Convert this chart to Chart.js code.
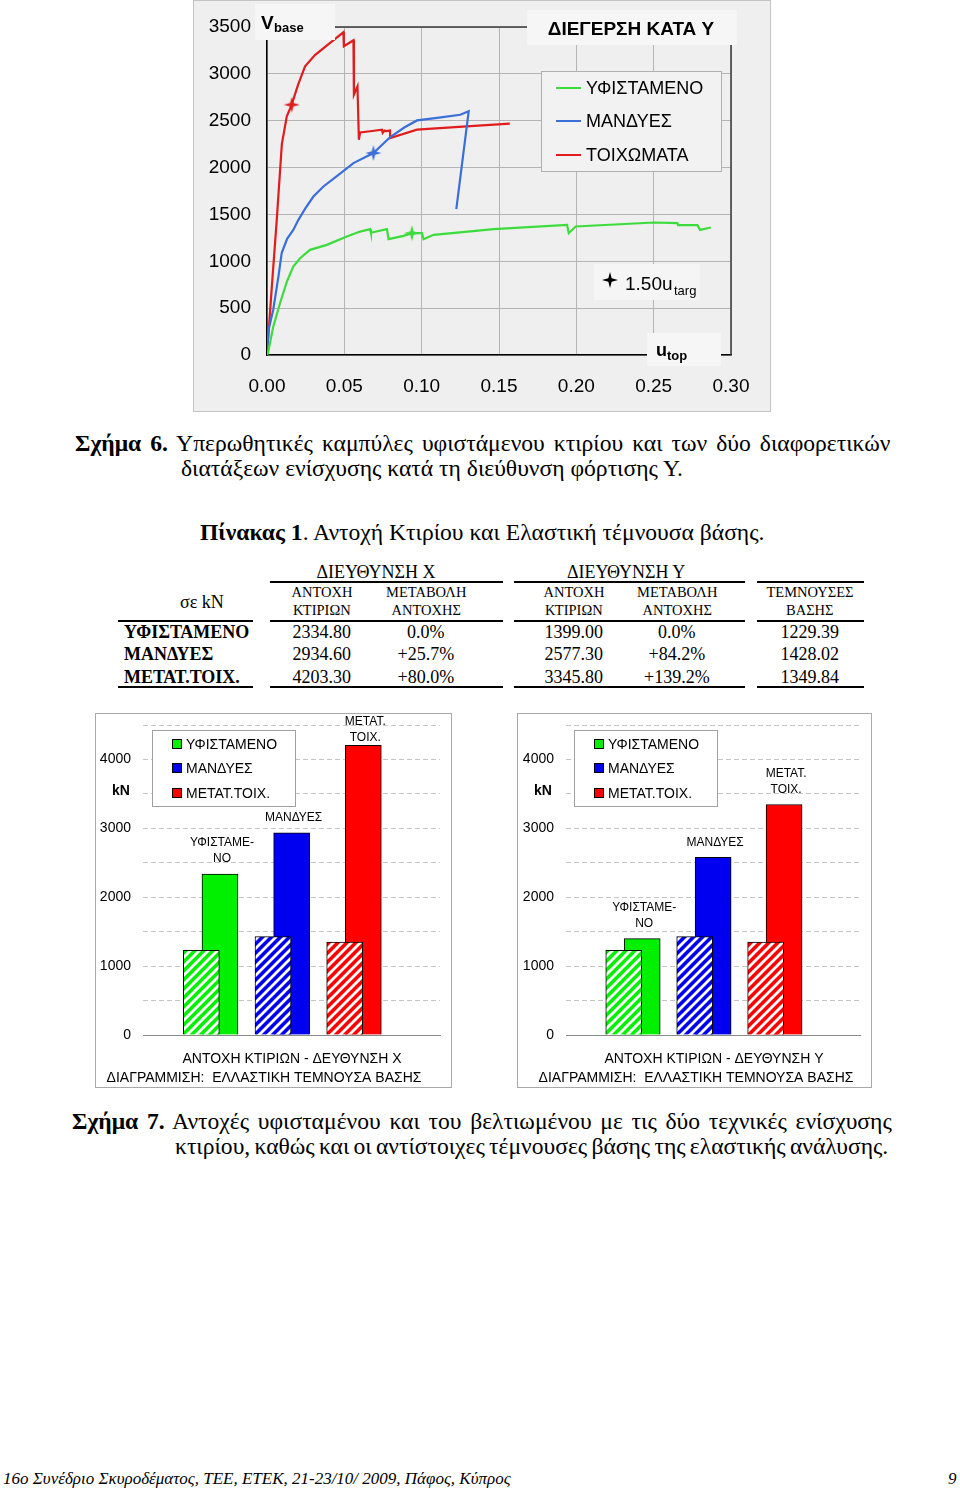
<!DOCTYPE html>
<html><head><meta charset="utf-8">
<script src="https://cdn.jsdelivr.net/npm/chart.js@4/dist/chart.umd.min.js"></script>
<style>
html,body{margin:0;padding:0;}
body{width:960px;height:1491px;background:#fff;position:relative;overflow:hidden;font-family:'Liberation Serif','Times New Roman',serif;color:#000;}
.t{position:absolute;white-space:nowrap;display:inline-block;}
.rule{position:absolute;background:#000;height:2px;}
canvas{position:absolute;}
</style>
</head><body>
<canvas id="pushover" width="578" height="412" style="left:193px;top:0px;"></canvas>
<canvas id="barX" width="357" height="375" style="left:95px;top:713px;"></canvas>
<canvas id="barY" width="355" height="375" style="left:517px;top:713px;"></canvas>
<script>
// ---------------- DATA ----------------
// Pushover curves (u_top, V_base) – direction Y
const seriesNames = ['ΥΦΙΣΤΑΜΕΝΟ', 'ΜΑΝΔΥΕΣ', 'ΤΟΙΧΩΜΑΤΑ'];
const seriesColors = ['#3cdc3c', '#3a6ed8', '#e01c1c'];
const uExisting = [0, 0.0008, 0.004, 0.0084, 0.013, 0.017, 0.0214, 0.0278, 0.0387, 0.0516, 0.0602, 0.0667, 0.0672, 0.0775, 0.0786, 0.0883, 0.0937, 0.1002, 0.1012, 0.1077, 0.1466, 0.194, 0.1951, 0.1995, 0.2502, 0.2653, 0.2658, 0.2783, 0.28, 0.2869];
const vExisting = [0, 35, 300, 552, 790, 943, 1033, 1122, 1175, 1264, 1317, 1343, 1305, 1343, 1236, 1271, 1300, 1300, 1236, 1282, 1343, 1389, 1300, 1371, 1414, 1407, 1385, 1386, 1335, 1360];
const uJackets = [0, 0.001, 0.004, 0.0075, 0.0095, 0.013, 0.017, 0.0203, 0.025, 0.030, 0.0365, 0.046, 0.0559, 0.0688, 0.0797, 0.089, 0.097, 0.110, 0.125, 0.1304, 0.1224];
const vJackets = [0, 270, 480, 850, 1087, 1240, 1335, 1442, 1570, 1691, 1798, 1920, 2048, 2155, 2326, 2430, 2503, 2530, 2564, 2600, 1557];
const uWalls = [0, 0.003, 0.0063, 0.0096, 0.0128, 0.016, 0.020, 0.0246, 0.031, 0.040, 0.0494, 0.0497, 0.0559, 0.0562, 0.0585, 0.0594, 0.0602, 0.068, 0.0743, 0.0748, 0.0760, 0.0770, 0.0795, 0.0797, 0.097, 0.129, 0.157];
const vWalls = [0, 700, 1442, 2250, 2546, 2671, 2880, 3080, 3200, 3320, 3443, 3294, 3358, 2778, 2867, 2297, 2375, 2390, 2404, 2370, 2395, 2390, 2395, 2315, 2404, 2439, 2468];
// 1.50 u_targ points (existing, jackets, walls)
const targU = [0.0937, 0.0688, 0.016];
const targV = [1300, 2155, 2671];

// Table 1 / bar charts
const categories = ['ΥΦΙΣΤΑΜΕΝΟ', 'ΜΑΝΔΥΕΣ', 'ΜΕΤΑΤ.ΤΟΙΧ.'];
const barColors = ['#00f000', '#0000f0', '#ff0000'];
const barTopLabels = [['ΥΦΙΣΤΑΜΕ-', 'ΝΟ'], ['ΜΑΝΔΥΕΣ'], ['ΜΕΤΑΤ.', 'ΤΟΙΧ.']];
const strengthX = [2334.80, 2934.60, 4203.30];
const changeX = ['0.0%', '+25.7%', '+80.0%'];
const strengthY = [1399.00, 2577.30, 3345.80];
const changeY = ['0.0%', '+84.2%', '+139.2%'];
const baseShear = [1229.39, 1428.02, 1349.84];

// ---------------- HELPERS ----------------
const SANS = "'Liberation Sans', Arial, sans-serif";
Chart.defaults.font.family = SANS;
Chart.defaults.color = '#000';

function starImg(color, r) {
  const c = document.createElement('canvas');
  const s = Math.ceil(r * 2 + 2); c.width = s; c.height = s;
  const g = c.getContext('2d'); const cx = s / 2, cy = s / 2, ri = r * 0.3;
  g.beginPath();
  for (let k = 0; k < 8; k++) {
    const a = -Math.PI / 2 + k * Math.PI / 4; const rr = k % 2 === 0 ? r : ri;
    g.lineTo(cx + rr * Math.cos(a), cy + rr * Math.sin(a));
  }
  g.closePath(); g.fillStyle = color; g.fill();
  return c;
}
function hatch(color) {
  const n = 9;
  const c = document.createElement('canvas'); c.width = n; c.height = n;
  const g = c.getContext('2d');
  g.fillStyle = color; g.fillRect(0, 0, n, n);
  g.strokeStyle = '#fff'; g.lineWidth = 2.8; g.lineCap = 'square';
  g.beginPath();
  g.moveTo(-2, n + 2); g.lineTo(n + 2, -2);
  g.moveTo(-2, 2); g.lineTo(2, -2);
  g.moveTo(n - 2, n + 2); g.lineTo(n + 2, n - 2);
  g.stroke();
  return document.createElement('canvas').getContext('2d').createPattern(c, 'repeat');
}
function pts(u, v) { return u.map((x, i) => ({ x: x, y: v[i] })); }

function text(x, y, html, css, align, justifyTo) {
  const d = document.createElement('div');
  d.className = 't';
  d.innerHTML = html;
  d.style.cssText += css;
  document.body.appendChild(d);
  const h = d.offsetHeight;
  let w = d.offsetWidth;
  if (justifyTo) {
    const spaces = (d.textContent.match(/ /g) || []).length;
    if (spaces > 0) {
      const ws = (justifyTo - w) / spaces;
      d.style.wordSpacing = ws + 'px';
      w = d.offsetWidth;
    }
  }
  let left = x;
  if (align === 'center') left = x - w / 2;
  else if (align === 'right') left = x - w;
  d.style.left = left + 'px';
  d.style.top = (y - h / 2) + 'px';
  return d;
}
function rule(x1, x2, y) {
  const d = document.createElement('div'); d.className = 'rule';
  d.style.left = x1 + 'px'; d.style.width = (x2 - x1) + 'px'; d.style.top = (y - 1) + 'px';
  document.body.appendChild(d);
}

// ---------------- PUSHOVER CHART ----------------
function box(ctx, x, y, w, h, fill, stroke) {
  ctx.fillStyle = fill; ctx.fillRect(x, y, w, h);
  if (stroke) { ctx.strokeStyle = stroke; ctx.lineWidth = 1; ctx.strokeRect(x + 0.5, y + 0.5, w - 1, h - 1); }
  ctx.fillStyle = '#000';
}
const pushoverDecor = {
  id: 'pushoverDecor',
  beforeDraw(chart) {
    const { ctx, width, height } = chart;
    ctx.save();
    ctx.fillStyle = '#efefef'; ctx.fillRect(0, 0, width, height);
    ctx.strokeStyle = '#c4c4c4'; ctx.lineWidth = 1; ctx.strokeRect(0.5, 0.5, width - 1, height - 1);
    ctx.restore();
  },
  afterDraw(chart) {
    const { ctx, chartArea: a } = chart;
    ctx.save();
    // frame (top/right)
    ctx.strokeStyle = '#3a3a3a'; ctx.lineWidth = 1.5;
    ctx.beginPath(); ctx.moveTo(a.left, a.top); ctx.lineTo(a.right, a.top); ctx.lineTo(a.right, a.bottom); ctx.stroke();
    // V_base label
    box(ctx, 62, 4, 80, 36, '#f6f6f6');
    ctx.textBaseline = 'alphabetic'; ctx.textAlign = 'left';
    ctx.font = 'bold 19px ' + SANS; ctx.fillText('V', 68, 29);
    ctx.font = 'bold 13px ' + SANS; ctx.fillText('base', 81, 32);
    // title
    box(ctx, 334, 10, 210, 35, '#f6f6f6');
    ctx.font = 'bold 19px ' + SANS; ctx.textAlign = 'center'; ctx.textBaseline = 'middle';
    ctx.fillText('ΔΙΕΓΕΡΣΗ ΚΑΤΑ Υ', 438, 30);
    // u_top label
    box(ctx, 454, 333, 74, 33, '#f6f6f6');
    ctx.textAlign = 'left'; ctx.textBaseline = 'alphabetic';
    ctx.font = 'bold 18px ' + SANS; ctx.fillText('u', 463, 356);
    ctx.font = 'bold 13px ' + SANS; ctx.fillText('top', 474, 360);
    // legend
    box(ctx, 348, 71, 181, 101, '#f2f2f2', '#b0b0b0');
    const rows = [88, 121, 155];
    seriesNames.forEach((name, i) => {
      ctx.strokeStyle = seriesColors[i]; ctx.lineWidth = 2;
      ctx.beginPath(); ctx.moveTo(363, rows[i]); ctx.lineTo(388, rows[i]); ctx.stroke();
      ctx.fillStyle = '#000'; ctx.font = '18px ' + SANS; ctx.textBaseline = 'middle';
      ctx.fillText(name, 393, rows[i] + 1);
    });
    // 1.50 u_targ annotation
    box(ctx, 401, 264, 106, 36, '#f5f5f5');
    const st = starImg('#000', 8);
    ctx.drawImage(st, 417 - st.width / 2, 280 - st.height / 2);
    ctx.textBaseline = 'alphabetic';
    ctx.font = '19px ' + SANS; ctx.fillText('1.50u', 432, 290);
    ctx.font = '13px ' + SANS; ctx.fillText('targ', 481, 295);
    ctx.restore();
  }
};

const curveSets = [
  { u: uExisting, v: vExisting },
  { u: uJackets, v: vJackets },
  { u: uWalls, v: vWalls }
];
const pushDatasets = [];
targU.forEach((u, i) => {
  pushDatasets.push({
    label: '1.50u_targ ' + seriesNames[i], data: [{ x: u, y: targV[i] }],
    pointStyle: starImg(seriesColors[i], 8), pointRadius: 8, showLine: false
  });
});
curveSets.forEach((s, i) => {
  pushDatasets.push({
    label: seriesNames[i], data: pts(s.u, s.v), showLine: true,
    borderColor: seriesColors[i], borderWidth: 2.2, pointRadius: 0, tension: 0, fill: false
  });
});

new Chart(document.getElementById('pushover'), {
  type: 'scatter',
  data: { datasets: pushDatasets },
  options: {
    responsive: false, animation: false, devicePixelRatio: 1,
    layout: { padding: { top: 27, right: 40, left: 0, bottom: 0 } },
    plugins: { legend: { display: false }, tooltip: { enabled: false } },
    scales: {
      x: {
        type: 'linear', min: 0, max: 0.3,
        ticks: { stepSize: 0.05, padding: 20, font: { size: 19 }, color: '#000', callback: v => (+v).toFixed(2) },
        grid: { color: '#b4b4b4', lineWidth: 1, drawTicks: false },
        border: { display: true, color: '#000', width: 1.5 },
        afterFit: s => { s.height = 57; }
      },
      y: {
        type: 'linear', min: 0, max: 3500,
        ticks: { stepSize: 500, padding: 16, font: { size: 19 }, color: '#000', callback: v => String(v) },
        grid: { color: '#b4b4b4', lineWidth: 1, drawTicks: false },
        border: { display: true, color: '#000', width: 1.5 },
        afterFit: s => { s.width = 74; s.paddingTop = 0; s.paddingBottom = 0; }
      }
    }
  },
  plugins: [pushoverDecor]
});

// ---------------- BAR CHARTS ----------------
const BAR_SHIFT = 0.13;
function barChart(id, strength, yWidth, title1, t1x, t2x) {
  const decor = {
    id: 'barDecor' + id,
    beforeDraw(chart) {
      const { ctx, width, height } = chart;
      ctx.save();
      ctx.fillStyle = '#fff'; ctx.fillRect(0, 0, width, height);
      ctx.strokeStyle = '#a8a8a8'; ctx.lineWidth = 1; ctx.strokeRect(0.5, 0.5, width - 1, height - 1);
      ctx.restore();
    },
    afterDraw(chart) {
      const { ctx, chartArea: a } = chart;
      ctx.save();
      // legend
      box(ctx, 57, 17, 144, 77, '#fff', '#a0a0a0');
      const rows = [31, 55, 80];
      categories.forEach((c, i) => {
        ctx.fillStyle = barColors[i]; ctx.fillRect(77, rows[i] - 5, 10, 10);
        ctx.strokeStyle = '#000'; ctx.lineWidth = 1; ctx.strokeRect(77.5, rows[i] - 4.5, 9, 9);
        ctx.fillStyle = '#000'; ctx.font = '14px ' + SANS; ctx.textAlign = 'left'; ctx.textBaseline = 'middle';
        ctx.fillText(c, 91, rows[i] + 1);
      });
      // kN
      ctx.font = 'bold 14px ' + SANS; ctx.textAlign = 'center';
      ctx.fillText('kN', 26, 78);
      // labels above solid bars
      const meta = chart.getDatasetMeta(1);
      ctx.font = '12px ' + SANS;
      meta.data.forEach((bar, i) => {
        const lines = barTopLabels[i];
        let top = bar.y - 15 - 16 * (lines.length - 1);
        if (top < a.top - 3) top = a.top - 3;
        lines.forEach((ln, k) => ctx.fillText(ln, bar.x + 2, top + 16 * k));
      });
      // axis titles
      ctx.font = '14px ' + SANS;
      ctx.fillText(title1, t1x, 346);
      ctx.fillText('ΔΙΑΓΡΑΜΜΙΣΗ:  ΕΛΛΑΣΤΙΚΗ ΤΕΜΝΟΥΣΑ ΒΑΣΗΣ', t2x, 365);
      ctx.restore();
    }
  };
  new Chart(document.getElementById(id), {
    type: 'bar',
    data: {
      datasets: [
        {
          label: 'ΕΛΑΣΤΙΚΗ ΤΕΜΝΟΥΣΑ ΒΑΣΗΣ',
          data: baseShear.map((v, i) => ({ x: i + 1 - BAR_SHIFT, y: v })),
          backgroundColor: barColors.map(hatch), borderColor: '#000', borderWidth: 1,
          barThickness: 36, grouped: false
        },
        {
          label: 'ΑΝΤΟΧΗ ΚΤΙΡΙΩΝ',
          data: strength.map((v, i) => ({ x: i + 1 + BAR_SHIFT, y: v })),
          backgroundColor: barColors, borderColor: '#000', borderWidth: 1,
          barThickness: 36, grouped: false
        }
      ]
    },
    options: {
      responsive: false, animation: false, devicePixelRatio: 1,
      layout: { padding: { top: 12, right: 12, left: 0, bottom: 0 } },
      plugins: { legend: { display: false }, tooltip: { enabled: false } },
      scales: {
        x: {
          type: 'linear', min: 0.056, max: 4.2, offset: false,
          ticks: { display: false },
          grid: { display: false },
          border: { display: true, color: '#8a8a8a', width: 1 },
          afterFit: s => { s.height = 53; }
        },
        y: {
          type: 'linear', min: 0, max: 4500,
          ticks: { stepSize: 500, padding: 12, font: { size: 14 }, color: '#000', callback: v => (v % 1000 === 0 ? String(v) : '') },
          grid: { color: '#c4c4c4', lineWidth: 1, drawTicks: false },
          border: { display: false, dash: [5, 3] },
          afterFit: s => { s.width = yWidth; s.paddingTop = 0; s.paddingBottom = 0; }
        }
      }
    },
    plugins: [decor]
  });
}
barChart('barX', strengthX, 48, 'ΑΝΤΟΧΗ ΚΤΙΡΙΩΝ - ΔΕΥΘΥΝΣΗ Χ', 197, 169);
barChart('barY', strengthY, 49, 'ΑΝΤΟΧΗ ΚΤΙΡΙΩΝ - ΔΕΥΘΥΝΣΗ Υ', 197, 179);

// ---------------- TEXT: CAPTIONS & TABLE ----------------
const CAP = 'font-size:23.6px;';
text(75, 443, '<b>Σχήμα 6.</b> Υπερωθητικές καμπύλες υφιστάμενου κτιρίου και των δύο διαφορετικών', CAP, 'left', 815);
text(181, 468, 'διατάξεων ενίσχυσης κατά τη διεύθυνση φόρτισης Υ.', CAP, 'left');
text(482, 532, '<b>Πίνακας 1</b>. Αντοχή Κτιρίου και Ελαστική τέμνουσα βάσης.', CAP, 'center');

const colX = [322, 426, 574, 677, 810];
text(376, 572, 'ΔΙΕΥΘΥΝΣΗ Χ', 'font-size:18px;', 'center');
text(626, 572, 'ΔΙΕΥΘΥΝΣΗ Υ', 'font-size:18px;', 'center');
const sub1 = ['ΑΝΤΟΧΗ', 'ΜΕΤΑΒΟΛΗ', 'ΑΝΤΟΧΗ', 'ΜΕΤΑΒΟΛΗ', 'ΤΕΜΝΟΥΣΕΣ'];
const sub2 = ['ΚΤΙΡΙΩΝ', 'ΑΝΤΟΧΗΣ', 'ΚΤΙΡΙΩΝ', 'ΑΝΤΟΧΗΣ', 'ΒΑΣΗΣ'];
colX.forEach((x, i) => {
  text(x, 592, sub1[i], 'font-size:14.5px;', 'center');
  text(x, 610, sub2[i], 'font-size:14.5px;', 'center');
});
text(202, 602, 'σε kN', 'font-size:18px;', 'center');
const rowY = [632, 654, 677];
categories.forEach((c, i) => {
  text(124, rowY[i], c, 'font-size:18px;font-weight:bold;', 'left');
  const vals = [strengthX[i].toFixed(2), changeX[i], strengthY[i].toFixed(2), changeY[i], baseShear[i].toFixed(2)];
  vals.forEach((v, k) => text(colX[k], rowY[i], v, 'font-size:18px;', 'center'));
});
const segs = [[270, 503], [514, 745], [757, 864]];
segs.forEach(s => rule(s[0], s[1], 582));
[[118, 253]].concat(segs).forEach(s => { rule(s[0], s[1], 621); rule(s[0], s[1], 687); });

text(72, 1121, '<b>Σχήμα 7.</b> Αντοχές υφισταμένου και του βελτιωμένου με τις δύο τεχνικές ενίσχυσης', CAP, 'left', 820);
text(175, 1146, 'κτιρίου, καθώς και οι αντίστοιχες τέμνουσες βάσης της ελαστικής ανάλυσης.', CAP, 'left', 713);

text(3, 1479, '16ο Συνέδριο Σκυροδέματος, ΤΕΕ, ΕΤΕΚ, 21-23/10/ 2009, Πάφος, Κύπρος', 'font-size:17px;font-style:italic;', 'left');
text(957, 1479, '9', 'font-size:17px;font-style:italic;', 'right');
</script>
</body></html>
